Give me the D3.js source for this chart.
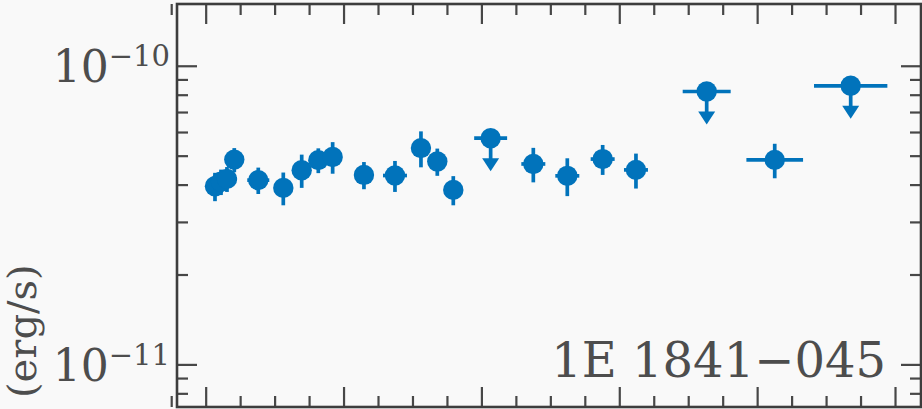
<!DOCTYPE html>
<html>
<head>
<meta charset="utf-8">
<script src="https://cdn.jsdelivr.net/npm/d3@7"></script>
<style>
  html, body { margin: 0; padding: 0; background: #f9f9f9; }
  svg { display: block; }
  text { font-family: "DejaVu Serif", serif; }
</style>
</head>
<body>
<svg id="chart" width="922" height="409"></svg>
<script>
// detections: MJD, flux in units of 1e-11 erg/s
const mjd = [50135, 50222, 50309, 50415, 50763, 51126, 51393, 51634, 51842, 52296,
             52746, 53123, 53360, 53592, 54753, 55246, 55759, 56242, 58255]
const mjdErr = [50, 50, 145, 60, 160, 50, 50, 50, 50, 60,
                174, 50, 50, 50, 174, 174, 174, 174, 411]
const flux = [3.95, 4.09, 4.18, 4.85, 4.14, 3.90, 4.47, 4.83, 4.95, 4.31,
              4.29, 5.30, 4.78, 3.84, 4.69, 4.28, 4.87, 4.48, 4.84]
const fluxErr = [0.43, 0.40, 0.40, 0.45, 0.42, 0.49, 0.57, 0.46, 0.60, 0.45,
                 0.51, 0.73, 0.50, 0.43, 0.62, 0.62, 0.56, 0.60, 0.64]

// upper limits
const ulMjd = [54134, 57268, 59357]
const ulMjdErr = [239, 348, 532]
const ulFlux = [5.72, 8.20, 8.57]

const xMajor = [50000, 52000, 54000, 56000, 58000, 60000]
const xMinor = d3.range(49500, 60400, 500).filter(d => d % 2000 !== 0)
const yMajor = [1e-11, 1e-10]
const yMinor = [8e-12, 9e-12, 2e-11, 3e-11, 4e-11, 5e-11, 6e-11, 7e-11, 8e-11, 9e-11]
const yMajorExp = ["\u221211", "\u221210"]

const sourceName = "1E 1841\u2212045"
const yLabel = "(erg/s)"

const unit = 1e-11
const blue = "#0173bb"
const ink = "#4d4d4d"
const serif = "'DejaVu Serif', serif"

const mLeft = 177, mRight = 921, mTop = 4, mBottom = 407

const svg = d3.select("#chart")

const x = d3.scaleLinear().domain([49584, 60377]).range([mLeft, mRight])
const y = d3.scaleLog().domain([7.2e-12, 1.61e-10]).range([mBottom, mTop])

// ticks, all pointing inward
const tickGroup = (axis, tx, ty) => {
    const g = svg.append("g")
        .attr("transform", `translate(${tx},${ty})`)
        .call(axis)
        .attr("font-family", serif)
    g.select(".domain").remove()
    g.selectAll("line").attr("stroke", "#474747").attr("stroke-width", 2.2)
    return g
}

tickGroup(d3.axisBottom(x).tickValues(xMajor).tickSize(-20).tickFormat(""), 0, mBottom)
tickGroup(d3.axisBottom(x).tickValues(xMinor).tickSize(-11).tickFormat(""), 0, mBottom)
tickGroup(d3.axisTop(x).tickValues(xMajor).tickSize(-20).tickFormat(""), 0, mTop)
tickGroup(d3.axisTop(x).tickValues(xMinor).tickSize(-11).tickFormat(""), 0, mTop)

const yLeft = tickGroup(d3.axisLeft(y).tickValues(yMajor).tickSize(-20).tickFormat(""), mLeft, 0)
tickGroup(d3.axisLeft(y).tickValues(yMinor).tickSize(-11).tickFormat(""), mLeft, 0)
tickGroup(d3.axisRight(y).tickValues(yMajor).tickSize(-20).tickFormat(""), mRight, 0)
tickGroup(d3.axisRight(y).tickValues(yMinor).tickSize(-11).tickFormat(""), mRight, 0)

// 10^n labels
yLeft.selectAll(".tick").each(function (d, i) {
    const t = d3.select(this).append("text")
        .attr("x", -7)
        .attr("y", 16)
        .attr("text-anchor", "end")
        .attr("fill", ink)
        .attr("font-family", serif)
        .attr("font-size", 44)
    t.append("tspan").text("10")
    t.append("tspan").attr("font-size", 29).attr("dy", -16).text(yMajorExp[i])
})

// frame
svg.append("rect")
    .attr("x", mLeft).attr("y", mTop)
    .attr("width", mRight - mLeft).attr("height", mBottom - mTop)
    .attr("fill", "none")
    .attr("stroke", "#3d3d3d")
    .attr("stroke-width", 2.6)

const marks = svg.append("g")
    .attr("stroke", blue)
    .attr("stroke-width", 3.7)
    .attr("fill", blue)

const pts = d3.range(mjd.length)

// error bars
marks.selectAll(".yerr").data(pts).join("line")
    .attr("x1", i => x(mjd[i])).attr("x2", i => x(mjd[i]))
    .attr("y1", i => y((flux[i] - fluxErr[i]) * unit))
    .attr("y2", i => y((flux[i] + fluxErr[i]) * unit))

marks.selectAll(".xerr").data(pts).join("line")
    .attr("x1", i => x(mjd[i] - mjdErr[i])).attr("x2", i => x(mjd[i] + mjdErr[i]))
    .attr("y1", i => y(flux[i] * unit)).attr("y2", i => y(flux[i] * unit))

marks.selectAll(".pt").data(pts).join("circle")
    .attr("stroke", "none")
    .attr("cx", i => x(mjd[i]))
    .attr("cy", i => y(flux[i] * unit))
    .attr("r", 10.2)

// upper limits with arrows
const uls = d3.range(ulMjd.length)
const ulFrac = 0.775

marks.selectAll(".ulx").data(uls).join("line")
    .attr("x1", i => x(ulMjd[i] - ulMjdErr[i])).attr("x2", i => x(ulMjd[i] + ulMjdErr[i]))
    .attr("y1", i => y(ulFlux[i] * unit)).attr("y2", i => y(ulFlux[i] * unit))

marks.selectAll(".uly").data(uls).join("line")
    .attr("x1", i => x(ulMjd[i])).attr("x2", i => x(ulMjd[i]))
    .attr("y1", i => y(ulFlux[i] * unit))
    .attr("y2", i => y(ulFlux[i] * ulFrac * unit) - 10)

marks.selectAll(".ulhead").data(uls).join("path")
    .attr("stroke", "none")
    .attr("d", i => {
        const cx = x(ulMjd[i]), tip = y(ulFlux[i] * ulFrac * unit)
        return `M${cx - 8.5},${tip - 13}L${cx + 8.5},${tip - 13}L${cx},${tip}Z`
    })

marks.selectAll(".ulpt").data(uls).join("circle")
    .attr("stroke", "none")
    .attr("cx", i => x(ulMjd[i]))
    .attr("cy", i => y(ulFlux[i] * unit))
    .attr("r", 10.2)

// source name
svg.append("text")
    .attr("x", 886).attr("y", 377)
    .attr("text-anchor", "end")
    .attr("fill", ink)
    .attr("font-family", serif)
    .attr("font-size", 48)
    .text(sourceName)

// y label (only the visible part of it)
svg.append("text")
    .attr("transform", "translate(36,398) rotate(-90)")
    .attr("fill", ink)
    .attr("font-family", serif)
    .attr("font-size", 40)
    .text(yLabel)
</script>
</body>
</html>
